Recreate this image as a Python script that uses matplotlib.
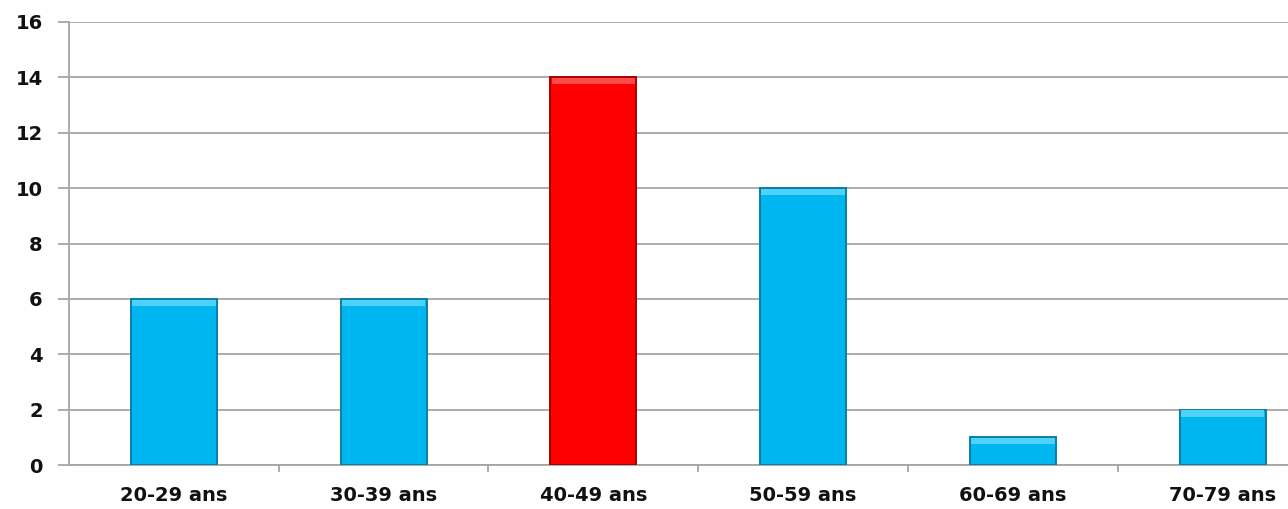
import matplotlib.pyplot as plt
import numpy as np

# age groups and number of people in each
AGE_GROUPS = ['20-29 ans', '30-39 ans', '40-49 ans', '50-59 ans', '60-69 ans', '70-79 ans']
COUNTS = [6, 6, 14, 10, 1, 2]
HIGHLIGHT = '40-49 ans'

BLUE = '#00B6F1'
BLUE_EDGE = '#0A7FA6'
BLUE_TOP = '#4FD2FA'
RED = '#FF0000'
RED_EDGE = '#A80000'
RED_TOP = '#FF4A4A'
GRID = '#A6A6A6'


def main():
    fig = plt.figure(figsize=(12.88, 5.09), dpi=100)
    # axis runs a little past the right border, so the last label is cut
    ax = fig.add_axes([0.0536, 0.0864, 0.977, 0.8704])

    x = np.arange(len(AGE_GROUPS))
    hot = [g == HIGHLIGHT for g in AGE_GROUPS]
    colors = [RED if h else BLUE for h in hot]
    edges = [RED_EDGE if h else BLUE_EDGE for h in hot]
    tops = [RED_TOP if h else BLUE_TOP for h in hot]
    bars = ax.bar(x, COUNTS, width=0.41, color=colors, edgecolor=edges,
                  linewidth=1.4, zorder=3)

    # light bevel strip along the top of every bar
    for b, c in zip(bars, tops):
        ax.bar(b.get_x() + b.get_width() / 2, 0.22, bottom=b.get_height() - 0.25,
               width=b.get_width() * 0.97, color=c, linewidth=0, zorder=4)

    ax.set_xlim(-0.5, len(AGE_GROUPS) - 0.5)
    ax.set_ylim(0, 16)
    ax.set_yticks(range(0, 17, 2))
    ax.yaxis.grid(True, color=GRID, linewidth=1.3, zorder=0)

    # category boundaries get the small tick marks, labels sit in the middle
    ax.set_xticks(x)
    ax.set_xticklabels(AGE_GROUPS)
    ax.set_xticks(np.arange(0.5, len(AGE_GROUPS) - 0.5, 1), minor=True)
    ax.tick_params(axis='x', which='major', length=0, pad=15)
    ax.tick_params(axis='x', which='minor', length=5, width=1.3, color=GRID)
    ax.tick_params(axis='y', length=8, width=1.3, color=GRID, pad=11)

    for lbl in ax.get_xticklabels() + ax.get_yticklabels():
        lbl.set_fontweight('bold')
        lbl.set_fontsize(14)
        lbl.set_color('#111111')

    for side in ['top', 'right']:
        ax.spines[side].set_visible(False)
    ax.spines['left'].set_color(GRID)
    ax.spines['left'].set_linewidth(1.3)
    ax.spines['bottom'].set_color(GRID)
    ax.spines['bottom'].set_linewidth(1.3)

    fig.savefig('out.png', dpi=100)


if __name__ == '__main__':
    main()
